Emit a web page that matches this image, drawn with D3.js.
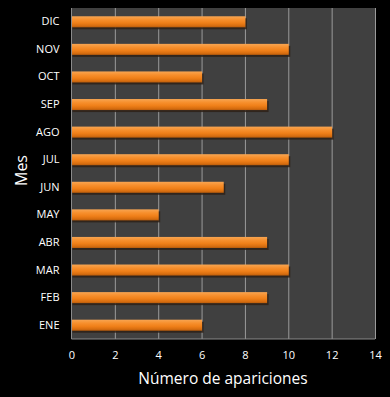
<!DOCTYPE html>
<html><head><meta charset="utf-8">
<script src="https://cdn.jsdelivr.net/npm/d3@7"></script>
<style>html,body{margin:0;padding:0;background:#000;}svg{display:block;}</style>
</head><body>
<script>
const months = ["ENE","FEB","MAR","ABR","MAY","JUN","JUL","AGO","SEP","OCT","NOV","DIC"];
const counts = [6,9,10,9,4,7,10,12,9,6,10,8];
const xTicks = [0,2,4,6,8,10,12,14];
const xTitle = "Número de apariciones";
const yTitle = "Mes";

const W = 390, H = 397;
const m = {left:71.5, right:15, top:8, bottom:58};
const svg = d3.select("body").append("svg").attr("width",W).attr("height",H);
svg.append("rect").attr("width",W).attr("height",H).attr("fill","#000");

const x = d3.scaleLinear().domain([0,14]).range([m.left, W-m.right]);
const y = d3.scaleBand().domain(months.slice().reverse()).range([m.top, H-m.bottom]).paddingInner(0.6).paddingOuter(0.3);

const defs = svg.append("defs");
const g = defs.append("linearGradient").attr("id","barg").attr("x1",0).attr("x2",0).attr("y1",0).attr("y2",1);
[[0,"#f7a552"],[0.3,"#f7902e"],[0.6,"#f08019"],[0.85,"#d86e10"],[1,"#b85c0c"]].forEach(s=>g.append("stop").attr("offset",s[0]).attr("stop-color",s[1]));

svg.append("rect").attr("x",x(0)).attr("y",m.top).attr("width",x(14)-x(0)).attr("height",H-m.bottom-m.top).attr("fill","#404040");

svg.append("g").selectAll("line").data(xTicks.slice(1)).join("line")
  .attr("x1",d=>x(d)+0.5).attr("x2",d=>x(d)+0.5).attr("y1",m.top).attr("y2",H-m.bottom)
  .attr("stroke","#9a9a9a").attr("stroke-width",1);
svg.append("line").attr("x1",x(0)).attr("x2",x(0)).attr("y1",m.top).attr("y2",H-m.bottom).attr("stroke","#8a8a8a");
svg.append("line").attr("x1",x(0)).attr("x2",x(14)).attr("y1",H-m.bottom).attr("y2",H-m.bottom).attr("stroke","#8a8a8a");

const data = months.map((mo,i)=>({mo, v:counts[i]}));
svg.append("g").selectAll("rect").data(data).join("rect")
  .attr("x",x(0)+1).attr("y",d=>y(d.mo)+2).attr("width",d=>x(d.v)-x(0)+1).attr("height",y.bandwidth())
  .attr("fill","#2e2118").attr("opacity",0.85);
svg.append("g").selectAll("rect").data(data).join("rect")
  .attr("x",x(0)+0.5).attr("y",d=>y(d.mo)).attr("width",d=>x(d.v)-x(0)).attr("height",y.bandwidth())
  .attr("fill","url(#barg)");

const font = "'Open Sans', 'Noto Sans', sans-serif";
const xa = svg.append("g").attr("transform",`translate(0,${H-m.bottom})`)
  .call(d3.axisBottom(x).tickValues(xTicks).tickSize(0).tickPadding(12));
xa.select(".domain").remove();
xa.selectAll("text").attr("fill","#fff").style("font-family",font).style("font-size","11px");

const ya = svg.append("g").attr("transform",`translate(${x(0)},0)`)
  .call(d3.axisLeft(y).tickSize(0).tickPadding(12));
ya.select(".domain").remove();
ya.selectAll("text").attr("fill","#fff").style("font-family",font).style("font-size","11px");

svg.append("text").attr("x",223).attr("y",384).attr("text-anchor","middle")
  .attr("fill","#fff").style("font-family",font).style("font-size","15.5px").text(xTitle);
svg.append("text").attr("transform",`translate(27,${(m.top+H-m.bottom)/2-3}) rotate(-90)`).attr("text-anchor","middle")
  .attr("fill","#fff").style("font-family",font).style("font-size","16px").text(yTitle);
</script>
</body></html>
